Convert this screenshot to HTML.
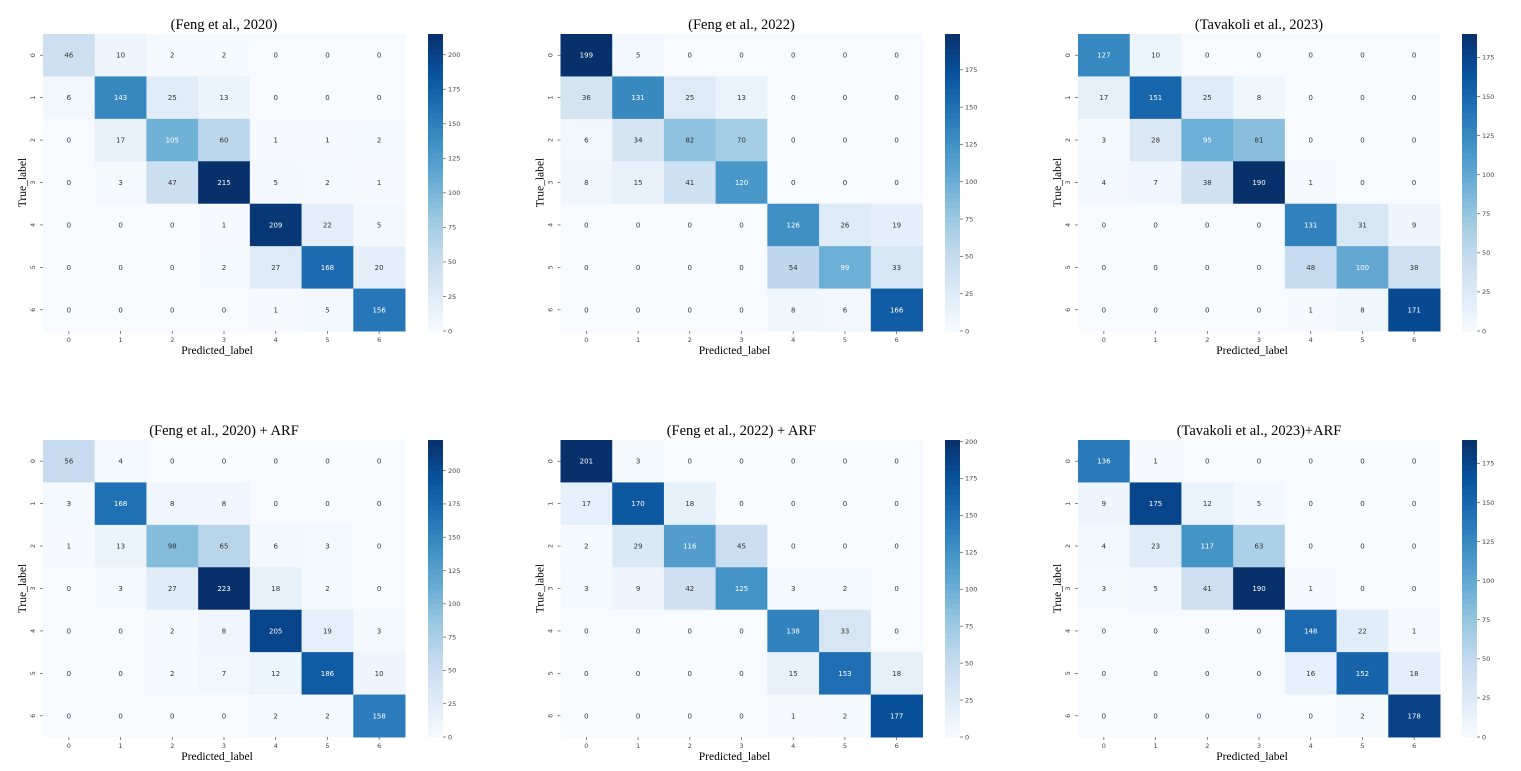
<!DOCTYPE html>
<html><head><meta charset="utf-8"><style>
html,body{margin:0;padding:0;background:#fff;}
svg{display:block;}
</style></head><body>
<svg id="fig" width="1521" height="771" xmlns="http://www.w3.org/2000/svg"></svg>
<script>
const classes = [0,1,2,3,4,5,6];
const titles = ["(Feng et al., 2020)","(Feng et al., 2022)","(Tavakoli et al., 2023)","(Feng et al., 2020) + ARF","(Feng et al., 2022) + ARF","(Tavakoli et al., 2023)+ARF"];
const m1 = [[46,10,2,2,0,0,0],[6,143,25,13,0,0,0],[0,17,105,60,1,1,2],[0,3,47,215,5,2,1],[0,0,0,1,209,22,5],[0,0,0,2,27,168,20],[0,0,0,0,1,5,156]];
const m2 = [[199,5,0,0,0,0,0],[36,131,25,13,0,0,0],[6,34,82,70,0,0,0],[8,15,41,120,0,0,0],[0,0,0,0,126,26,19],[0,0,0,0,54,99,33],[0,0,0,0,8,6,166]];
const m3 = [[127,10,0,0,0,0,0],[17,151,25,8,0,0,0],[3,28,95,81,0,0,0],[4,7,38,190,1,0,0],[0,0,0,0,131,31,9],[0,0,0,0,48,100,38],[0,0,0,0,1,8,171]];
const m4 = [[56,4,0,0,0,0,0],[3,168,8,8,0,0,0],[1,13,98,65,6,3,0],[0,3,27,223,18,2,0],[0,0,2,8,205,19,3],[0,0,2,7,12,186,10],[0,0,0,0,2,2,158]];
const m5 = [[201,3,0,0,0,0,0],[17,170,18,0,0,0,0],[2,29,116,45,0,0,0],[3,9,42,125,3,2,0],[0,0,0,0,138,33,0],[0,0,0,0,15,153,18],[0,0,0,0,1,2,177]];
const m6 = [[136,1,0,0,0,0,0],[9,175,12,5,0,0,0],[4,23,117,63,0,0,0],[3,5,41,190,1,0,0],[0,0,0,0,148,22,1],[0,0,0,0,16,152,18],[0,0,0,0,0,2,178]];
const mats = [m1,m2,m3,m4,m5,m6];
const cbTicks = [0,25,50,75,100,125,150,175,200];

const NS="http://www.w3.org/2000/svg";
const svg=document.getElementById('fig');
const stops=["#f7fbff","#deebf7","#c6dbef","#9ecae1","#6baed6","#4292c6","#2171b5","#08519c","#08306b"].map(h=>[parseInt(h.substr(1,2),16),parseInt(h.substr(3,2),16),parseInt(h.substr(5,2),16)]);
function cmap(t){t=Math.max(0,Math.min(1,t));const p=t*8;const i=Math.min(7,Math.floor(p));const f=p-i;const a=stops[i],b=stops[i+1];return [0,1,2].map(k=>Math.round(a[k]+(b[k]-a[k])*f));}
function lum(c){const l=c.map(v=>{v/=255;return v<=0.03928?v/12.92:Math.pow((v+0.055)/1.055,2.4);});return 0.2126*l[0]+0.7152*l[1]+0.0722*l[2];}
function el(tag,attrs,parent){const e=document.createElementNS(NS,tag);for(const k in attrs)e.setAttribute(k,attrs[k]);(parent||svg).appendChild(e);return e;}

for(let p=0;p<6;p++){
  const col=p%3,row=Math.floor(p/3);
  const X0=43+col*517.5, Y0=34+row*406, W=362, H=297;
  const CBX=428+col*517, CBW=15;
  const m=mats[p];
  const vmax=Math.max(...m.flat());
  const g=el('g',{});
  
  
  const cw=W/classes.length, ch=H/classes.length;
  const xs=i=>X0+i*cw, ys=j=>Y0+j*ch;
  const t=el('text',{x:X0+W/2,y:Y0-5,'text-anchor':'middle','font-family':'Liberation Serif, serif','font-size':'14.5'},g);
  t.textContent=titles[p];
  
  
  for(let r=0;r<m.length;r++)for(let c=0;c<m[r].length;c++){
    const v=m[r][c];const rgb=cmap(v/vmax);
    const rc=el('rect',{x:xs(c),y:ys(r),width:cw+0.5,height:ch+0.5,fill:`rgb(${rgb})`},g);
    
    
    const tx=el('text',{x:xs(c)+cw/2,y:ys(r)+ch/2+2.5,'text-anchor':'middle','font-family':'DejaVu Sans, sans-serif','font-size':'7',fill:lum(rgb)>0.408?'#333':'#fff'},g);
    tx.textContent=v;
    
    
  }
  classes.forEach((c,i)=>{
    const cx=xs(i)+cw/2;
    el('line',{x1:cx,y1:Y0+H,x2:cx,y2:Y0+H+3,stroke:'#555','stroke-width':0.7},g);
    const lx=el('text',{x:cx,y:Y0+H+11,'text-anchor':'middle','font-family':'DejaVu Sans, sans-serif','font-size':'6.5',fill:'#444'},g);
    lx.textContent=c;
    
    
    const cy=ys(i)+ch/2;
    el('line',{x1:X0-3,y1:cy,x2:X0,y2:cy,stroke:'#555','stroke-width':0.7},g);
    const ly=el('text',{x:X0-8,y:cy,'text-anchor':'middle','font-family':'DejaVu Sans, sans-serif','font-size':'6.5',fill:'#444',transform:`rotate(-90 ${X0-8} ${cy})`},g);
    ly.textContent=c;
    
    
  });
  const xl=el('text',{x:X0+W/2-7,y:Y0+H+23,'text-anchor':'middle','font-family':'Liberation Serif, serif','font-size':'11.5'},g);
  xl.textContent='Predicted_label';
  
  
  const yx=X0-17, yy=Y0+H/2;
  const yl=el('text',{x:yx,y:yy,'text-anchor':'middle','font-family':'Liberation Serif, serif','font-size':'11.5',transform:`rotate(-90 ${yx} ${yy})`},g);
  yl.textContent='True_label';
  
  
  // colorbar
  const cb=el('g',{},g);
  
  
  const N=60;
  for(let k=0;k<N;k++){
    const rgb=cmap((k+0.5)/N);
    el('rect',{x:CBX,y:Y0+H-(k+1)*H/N,width:CBW,height:H/N+0.6,fill:`rgb(${rgb})`},cb);
  }
  cbTicks.filter(v=>v<=vmax).forEach(v=>{
    const y=Y0+H-v/vmax*H;
    el('line',{x1:CBX+CBW,y1:y,x2:CBX+CBW+3,y2:y,stroke:'#555','stroke-width':0.7},cb);
    const tl=el('text',{x:CBX+CBW+5,y:y+2.3,'font-family':'DejaVu Sans, sans-serif','font-size':'6.5',fill:'#444'},cb);
    tl.textContent=v;
    
    
  });
}
</script>
</body></html>
